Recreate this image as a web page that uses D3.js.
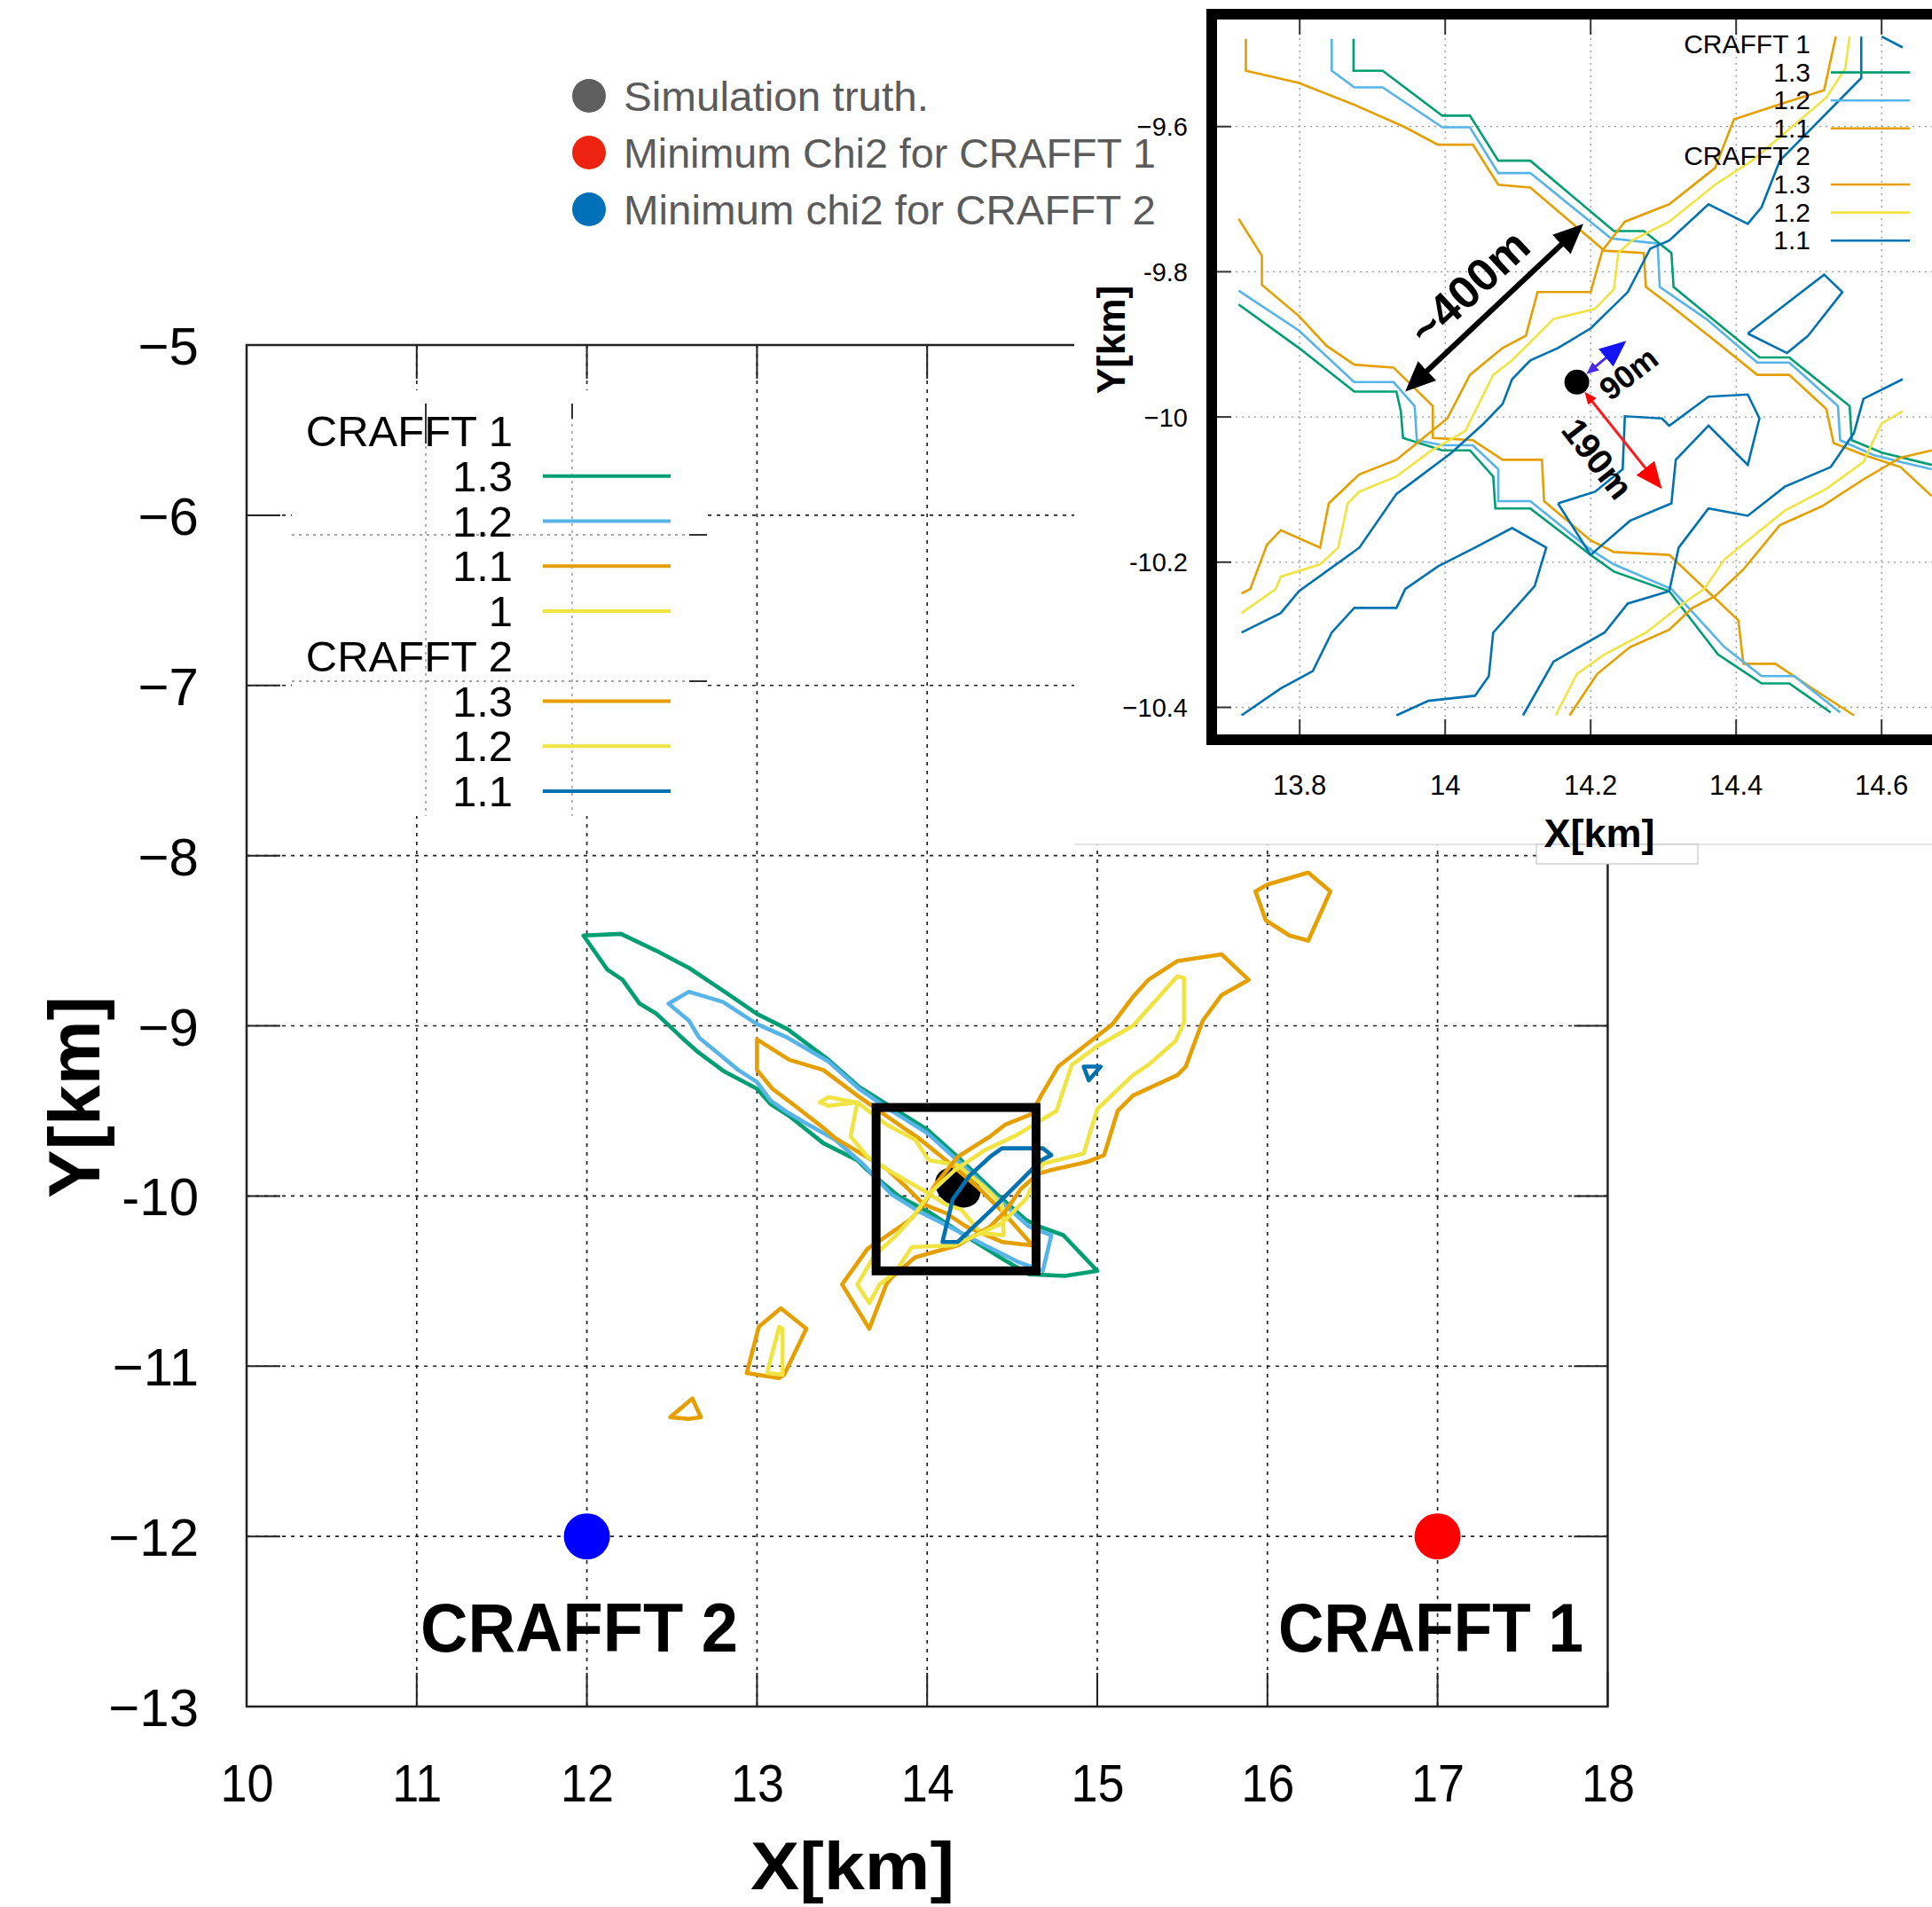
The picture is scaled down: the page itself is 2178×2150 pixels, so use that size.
<!DOCTYPE html>
<html>
<head>
<meta charset="utf-8">
<script src="https://cdn.jsdelivr.net/npm/d3@7"></script>
<style>
  body { margin: 0; background: #fff; }
  svg { display: block; }
  text { font-family: "Liberation Sans", Arial, Helvetica, sans-serif; }
</style>
</head>
<body>
<svg id="chart" width="2178" height="2150"></svg>
<script>
// ---------------- data ----------------
const xTicks = [10, 11, 12, 13, 14, 15, 16, 17, 18];
const yTicks = [-13, -12, -11, -10, -9, -8, -7, -6, -5];
const yTickLabels = ["\u221213", "\u221212", "\u221211", "-10", "\u22129", "\u22128", "\u22127", "\u22126", "\u22125"];

const stations = [
  { name: "CRAFFT 2", x: 12, y: -12 },
  { name: "CRAFFT 1", x: 17, y: -12 }
];
const truthPoint = [14.18, -9.95];
const zoomBox = { x0: 13.70, x1: 14.64, y0: -10.44, y1: -9.48 };

// chi2 ratio contours, full map (closed rings)
const c1_13 = [[11.98,-8.47],[12.20,-8.46],[12.41,-8.56],[12.60,-8.66],[12.81,-8.80],[13.00,-8.93],[13.18,-9.02],[13.42,-9.20],[13.60,-9.36],[13.76,-9.46],[14.00,-9.61],[14.20,-9.79],[14.41,-9.99],[14.58,-10.14],[14.66,-10.18],[14.80,-10.23],[15.00,-10.44],[14.81,-10.47],[14.60,-10.46],[14.46,-10.38],[14.25,-10.25],[14.02,-10.10],[13.83,-10.00],[13.65,-9.85],[13.59,-9.79],[13.39,-9.69],[13.19,-9.53],[13.08,-9.46],[13.00,-9.37],[12.81,-9.27],[12.66,-9.16],[12.58,-9.09],[12.41,-8.93],[12.31,-8.87],[12.21,-8.73],[12.12,-8.67]];
const c1_12 = [[12.48,-8.87],[12.60,-8.80],[12.80,-8.86],[13.00,-8.99],[13.18,-9.07],[13.42,-9.21],[13.60,-9.37],[13.76,-9.48],[14.00,-9.63],[14.20,-9.81],[14.41,-10.01],[14.60,-10.18],[14.73,-10.23],[14.68,-10.44],[14.54,-10.39],[14.34,-10.29],[14.11,-10.17],[13.95,-10.09],[13.79,-9.99],[13.62,-9.81],[13.46,-9.67],[13.30,-9.58],[13.18,-9.51],[13.08,-9.44],[13.00,-9.33],[12.89,-9.26],[12.77,-9.16],[12.66,-9.07],[12.60,-8.97]];
const c1_11 = [[13.00,-9.08],[13.19,-9.20],[13.39,-9.26],[13.59,-9.41],[13.76,-9.53],[13.95,-9.66],[14.11,-9.79],[14.30,-9.95],[14.46,-10.11],[14.61,-10.28],[14.61,-10.29],[14.44,-10.27],[14.23,-10.18],[14.11,-10.10],[13.98,-10.05],[13.88,-9.95],[13.76,-9.84],[13.46,-9.66],[13.39,-9.60],[13.21,-9.46],[13.09,-9.37],[13.00,-9.26]];
const c1_10 = [[13.59,-9.45],[13.76,-9.58],[13.93,-9.67],[14.01,-9.79],[14.18,-9.82],[14.34,-9.95],[14.44,-10.05],[14.45,-10.23],[14.32,-10.22],[14.20,-10.08],[14.11,-10.05],[14.00,-9.98],[13.79,-9.86],[13.65,-9.77],[13.55,-9.65]];
const c1_10b = [[13.37,-9.45],[13.42,-9.42],[13.58,-9.45],[13.42,-9.47]];

const c2_13 = [[13.50,-10.52],[13.65,-10.31],[13.74,-10.25],[13.90,-10.14],[13.98,-10.05],[14.05,-9.93],[14.18,-9.77],[14.37,-9.65],[14.46,-9.58],[14.61,-9.52],[14.67,-9.41],[14.77,-9.24],[14.91,-9.13],[15.09,-8.99],[15.21,-8.83],[15.30,-8.73],[15.47,-8.62],[15.73,-8.58],[15.89,-8.73],[15.73,-8.82],[15.62,-8.97],[15.52,-9.24],[15.47,-9.29],[15.21,-9.41],[15.12,-9.50],[15.04,-9.76],[14.94,-9.80],[14.72,-9.85],[14.65,-9.87],[14.55,-9.96],[14.46,-10.09],[14.37,-10.18],[14.18,-10.29],[13.93,-10.36],[13.79,-10.48],[13.76,-10.52],[13.66,-10.78]];
const c2_13b = [[15.93,-8.21],[16.00,-8.17],[16.24,-8.10],[16.37,-8.21],[16.24,-8.50],[16.13,-8.47],[15.99,-8.38]];
const c2_13c = [[12.94,-11.04],[13.01,-10.77],[13.14,-10.66],[13.29,-10.78],[13.16,-11.05],[13.13,-11.07]];
const c2_13d = [[12.49,-11.30],[12.62,-11.19],[12.67,-11.30],[12.60,-11.31]];
const c2_12 = [[13.59,-10.52],[13.69,-10.35],[13.81,-10.24],[13.91,-10.13],[14.02,-9.98],[14.16,-9.85],[14.34,-9.73],[14.53,-9.64],[14.76,-9.50],[14.85,-9.23],[15.00,-9.12],[15.21,-9.00],[15.47,-8.71],[15.51,-8.72],[15.51,-8.98],[15.46,-9.09],[15.30,-9.23],[15.21,-9.29],[15.00,-9.49],[14.92,-9.75],[14.68,-9.81],[14.58,-10.02],[14.44,-10.16],[14.16,-10.29],[13.91,-10.30],[13.81,-10.45],[13.72,-10.52],[13.66,-10.63]];
const c2_12b = [[13.06,-11.04],[13.13,-10.77],[13.15,-10.78],[13.15,-11.05]];
const c2_11 = [[14.44,-9.72],[14.68,-9.72],[14.73,-9.76],[14.67,-9.79],[14.39,-10.07],[14.18,-10.27],[14.09,-10.27],[14.15,-10.02],[14.25,-9.88],[14.37,-9.77]];
const c2_11b = [[14.92,-9.24],[15.02,-9.24],[14.95,-9.32]];

// zoomed map contours (open lines crossing the window)
const z1_11_up = [[13.726,-9.479],[13.726,-9.523],[13.799,-9.540],[13.875,-9.570],[13.945,-9.601],[13.990,-9.625],[14.038,-9.625],[14.073,-9.680],[14.117,-9.684],[14.219,-9.771],[14.273,-9.774],[14.276,-9.821],[14.308,-9.845],[14.371,-9.895],[14.429,-9.942],[14.473,-9.942],[14.524,-9.989],[14.534,-10.036],[14.575,-10.052],[14.626,-10.069],[14.669,-10.109]];
const z1_12_up = [[13.844,-9.479],[13.844,-9.523],[13.875,-9.546],[13.914,-9.546],[13.996,-9.601],[14.034,-9.601],[14.073,-9.664],[14.117,-9.664],[14.228,-9.754],[14.273,-9.759],[14.292,-9.761],[14.295,-9.821],[14.359,-9.865],[14.429,-9.925],[14.473,-9.925],[14.540,-9.985],[14.543,-10.032],[14.588,-10.052],[14.626,-10.062],[14.669,-10.072]];
const z1_13_up = [[13.874,-9.479],[13.874,-9.523],[13.914,-9.523],[13.996,-9.585],[14.034,-9.585],[14.073,-9.647],[14.117,-9.647],[14.232,-9.744],[14.273,-9.744],[14.311,-9.774],[14.314,-9.821],[14.371,-9.868],[14.432,-9.918],[14.473,-9.918],[14.556,-9.985],[14.559,-10.032],[14.600,-10.049],[14.669,-10.066]];
const z1_13_lo = [[13.716,-9.845],[13.799,-9.905],[13.875,-9.965],[13.933,-9.965],[13.939,-9.992],[13.942,-10.029],[13.996,-10.046],[14.034,-10.046],[14.066,-10.082],[14.069,-10.126],[14.117,-10.126],[14.200,-10.190],[14.232,-10.213],[14.308,-10.240],[14.375,-10.327],[14.435,-10.367],[14.473,-10.367],[14.530,-10.407]];
const z1_12_lo = [[13.716,-9.826],[13.799,-9.881],[13.875,-9.952],[13.929,-9.952],[13.958,-9.985],[13.961,-10.032],[13.996,-10.039],[14.038,-10.039],[14.073,-10.072],[14.073,-10.116],[14.117,-10.116],[14.200,-10.183],[14.232,-10.203],[14.311,-10.237],[14.384,-10.317],[14.435,-10.357],[14.480,-10.357],[14.543,-10.407]];
const z1_11_lo = [[13.716,-9.727],[13.748,-9.778],[13.748,-9.818],[13.799,-9.861],[13.837,-9.902],[13.875,-9.928],[13.929,-9.932],[13.983,-9.985],[13.983,-10.029],[14.038,-10.032],[14.079,-10.059],[14.133,-10.059],[14.136,-10.116],[14.200,-10.170],[14.232,-10.186],[14.308,-10.190],[14.403,-10.280],[14.410,-10.340],[14.454,-10.340],[14.505,-10.374],[14.562,-10.411]];

const z2_13_a = [[13.720,-10.243],[13.732,-10.237],[13.755,-10.176],[13.774,-10.156],[13.828,-10.180],[13.840,-10.119],[13.882,-10.079],[13.933,-10.059],[14.003,-10.002],[14.034,-9.942],[14.079,-9.905],[14.111,-9.888],[14.127,-9.828],[14.200,-9.828],[14.216,-9.771],[14.247,-9.731],[14.308,-9.707],[14.371,-9.657],[14.397,-9.590],[14.467,-9.567],[14.521,-9.550],[14.537,-9.476]];
const z2_12_a = [[13.720,-10.270],[13.767,-10.237],[13.774,-10.220],[13.828,-10.203],[13.853,-10.180],[13.866,-10.119],[13.882,-10.103],[13.933,-10.082],[13.977,-10.049],[14.028,-10.019],[14.066,-9.942],[14.092,-9.922],[14.149,-9.865],[14.206,-9.851],[14.232,-9.824],[14.238,-9.774],[14.257,-9.757],[14.308,-9.731],[14.371,-9.680],[14.422,-9.647],[14.524,-9.560],[14.550,-9.520],[14.556,-9.476]];
const z2_11_a = [[13.720,-10.297],[13.774,-10.270],[13.799,-10.240],[13.882,-10.180],[13.933,-10.106],[13.952,-10.092],[14.009,-10.049],[14.053,-10.009],[14.079,-9.982],[14.092,-9.948],[14.117,-9.922],[14.155,-9.905],[14.200,-9.878],[14.251,-9.828],[14.282,-9.768],[14.308,-9.757],[14.362,-9.707],[14.416,-9.734],[14.435,-9.711],[14.460,-9.647],[14.572,-9.533],[14.572,-9.476]];
const z2_11_ring = [[14.416,-9.885],[14.521,-9.804],[14.546,-9.828],[14.499,-9.888],[14.470,-9.912],[14.416,-9.885]];
const z2_11_core = [[14.155,-10.119],[14.206,-10.103],[14.244,-10.072],[14.247,-9.999],[14.298,-10.002],[14.308,-10.012],[14.362,-9.972],[14.416,-9.969],[14.432,-10.002],[14.416,-10.066],[14.362,-10.012],[14.317,-10.059],[14.311,-10.119],[14.254,-10.143],[14.200,-10.190],[14.155,-10.119]];
const z2_11_sw = [[13.720,-10.411],[13.774,-10.374],[13.818,-10.350],[13.844,-10.297],[13.875,-10.263],[13.933,-10.263],[13.945,-10.237],[13.990,-10.206],[14.041,-10.180],[14.092,-10.153],[14.139,-10.180],[14.123,-10.233],[14.066,-10.297],[14.060,-10.357],[14.041,-10.384],[13.977,-10.391],[13.933,-10.411]];
const z2_11_b = [[14.107,-10.411],[14.149,-10.337],[14.219,-10.297],[14.251,-10.257],[14.308,-10.240],[14.321,-10.180],[14.362,-10.126],[14.416,-10.136],[14.467,-10.096],[14.530,-10.069],[14.562,-10.022],[14.575,-9.975],[14.629,-9.948]];
const z2_11_ne = [[14.600,-9.476],[14.629,-9.491]];
const z2_12_b = [[14.152,-10.411],[14.181,-10.354],[14.219,-10.327],[14.276,-10.297],[14.327,-10.257],[14.356,-10.237],[14.384,-10.196],[14.467,-10.129],[14.524,-10.099],[14.575,-10.062],[14.600,-10.009],[14.629,-9.992]];
const z2_13_b = [[14.171,-10.411],[14.209,-10.354],[14.254,-10.317],[14.308,-10.293],[14.340,-10.263],[14.371,-10.247],[14.410,-10.210],[14.460,-10.149],[14.518,-10.123],[14.575,-10.086],[14.626,-10.056],[14.669,-10.046]];

// zoomed map: minima and distances
const zoomTruth = [14.181, -9.952];
const zoomMin2 = [14.249, -9.895];
const zoomMin1 = [14.298, -10.099];
const widthArrow = [[13.945, -9.965], [14.190, -9.734]];
const widthLabel = "~400m";
const dist2Label = "90m";
const dist1Label = "190m";

const insetXTicks = [13.8, 14, 14.2, 14.4, 14.6];
const insetXTickLabels = ["13.8", "14", "14.2", "14.4", "14.6"];
const insetYTicks = [-9.6, -9.8, -10, -10.2, -10.4];
const insetYTickLabels = ["\u22129.6", "-9.8", "\u221210", "-10.2", "\u221210.4"];

const legendSets = ["CRAFFT 1", "CRAFFT 2"];
const legendLevels1 = ["1.3", "1.2", "1.1", "1"];
const legendLevels2 = ["1.3", "1.2", "1.1"];
const insetLevels1 = ["1.3", "1.2", "1.1"];
const insetLevels2 = ["1.3", "1.2", "1.1"];
const markerLegend = ["Simulation truth.", "Minimum Chi2 for CRAFFT 1", "Minimum chi2 for CRAFFT 2"];

// ---------------- styles ----------------
const GREEN = "#009e73", SKY = "#56b4e9", ORANGE = "#e69f00", YELLOW = "#f0e442", BLUE = "#0072b2";
const c1Colors = { "1.3": GREEN, "1.2": SKY, "1.1": ORANGE, "1": YELLOW };
const c2Colors = { "1.3": ORANGE, "1.2": YELLOW, "1.1": BLUE };

const mainRings = [
  { ring: c1_13, color: c1Colors["1.3"] },
  { ring: c1_12, color: c1Colors["1.2"] },
  { ring: c1_11, color: c1Colors["1.1"] },
  { ring: c1_10, color: c1Colors["1"] },
  { ring: c1_10b, color: c1Colors["1"] },
  { ring: c2_13, color: c2Colors["1.3"] },
  { ring: c2_13b, color: c2Colors["1.3"] },
  { ring: c2_13c, color: c2Colors["1.3"] },
  { ring: c2_13d, color: c2Colors["1.3"] },
  { ring: c2_12, color: c2Colors["1.2"] },
  { ring: c2_12b, color: c2Colors["1.2"] },
  { ring: c2_11, color: c2Colors["1.1"] },
  { ring: c2_11b, color: c2Colors["1.1"] }
];
const insetLines = [
  { pts: z1_11_up, color: c1Colors["1.1"] },
  { pts: z1_12_up, color: c1Colors["1.2"] },
  { pts: z1_13_up, color: c1Colors["1.3"] },
  { pts: z1_11_lo, color: c1Colors["1.1"] },
  { pts: z1_12_lo, color: c1Colors["1.2"] },
  { pts: z1_13_lo, color: c1Colors["1.3"] },
  { pts: z2_13_a, color: c2Colors["1.3"] },
  { pts: z2_12_a, color: c2Colors["1.2"] },
  { pts: z2_11_a, color: c2Colors["1.1"] },
  { pts: z2_11_ring, color: c2Colors["1.1"] },
  { pts: z2_11_core, color: c2Colors["1.1"] },
  { pts: z2_11_sw, color: c2Colors["1.1"] },
  { pts: z2_11_b, color: c2Colors["1.1"] },
  { pts: z2_11_ne, color: c2Colors["1.1"] },
  { pts: z2_12_b, color: c2Colors["1.2"] },
  { pts: z2_13_b, color: c2Colors["1.3"] }
];

// ---------------- drawing ----------------
const svg = d3.select("#chart");
svg.append("rect").attr("width", 2178).attr("height", 2150).attr("fill", "#fff");
const defs = svg.append("defs");

const plotL = 278, plotR = 1812.4, plotT = 389, plotB = 1924;
const x = d3.scaleLinear().domain([10, 18]).range([plotL, plotR]);
const y = d3.scaleLinear().domain([-13, -5]).range([plotB, plotT]);

// grid
const grid = svg.append("g").attr("stroke", "#222").attr("stroke-width", 1.7).attr("stroke-dasharray", "4,6");
grid.selectAll("line.gx").data(xTicks.slice(1, -1)).join("line").attr("class", "gx")
  .attr("x1", d => x(d)).attr("x2", d => x(d)).attr("y1", plotT).attr("y2", plotB);
grid.selectAll("line.gy").data(yTicks.slice(1, -1)).join("line").attr("class", "gy")
  .attr("y1", d => y(d)).attr("y2", d => y(d)).attr("x1", plotL).attr("x2", plotR);

// ticks on all four sides
const tk = svg.append("g").attr("stroke", "#222").attr("stroke-width", 2);
const TL = 38;
tk.selectAll("line.tb").data(xTicks).join("line").attr("class", "tb")
  .attr("x1", d => x(d)).attr("x2", d => x(d)).attr("y1", plotB).attr("y2", plotB - TL);
tk.selectAll("line.tt").data(xTicks).join("line").attr("class", "tt")
  .attr("x1", d => x(d)).attr("x2", d => x(d)).attr("y1", plotT).attr("y2", plotT + TL);
tk.selectAll("line.tl").data(yTicks).join("line").attr("class", "tl")
  .attr("y1", d => y(d)).attr("y2", d => y(d)).attr("x1", plotL).attr("x2", plotL + TL);
tk.selectAll("line.tr").data(yTicks).join("line").attr("class", "tr")
  .attr("y1", d => y(d)).attr("y2", d => y(d)).attr("x1", plotR).attr("x2", plotR - TL);

// frame
svg.append("rect").attr("x", plotL).attr("y", plotT).attr("width", plotR - plotL).attr("height", plotB - plotT)
  .attr("fill", "none").attr("stroke", "#222").attr("stroke-width", 2.5);

// axes labels
const gx = svg.append("g").attr("transform", `translate(0,${plotB})`)
  .call(d3.axisBottom(x).tickValues(xTicks).tickSize(0).tickFormat(d3.format("d")));
gx.select(".domain").remove();
gx.selectAll("text").attr("font-size", 60).attr("fill", "#000").attr("dy", null).attr("y", 107)
  .attr("font-family", "Liberation Sans, Arial, sans-serif").attr("transform", "scale(0.9,1)");
const gy = svg.append("g").attr("transform", `translate(${plotL},0)`)
  .call(d3.axisLeft(y).tickValues(yTicks).tickSize(0).tickPadding(54).tickFormat((d, i) => yTickLabels[i]));
gy.select(".domain").remove();
gy.selectAll("text").attr("font-size", 60).attr("fill", "#000").attr("dy", "0.36em")
  .attr("font-family", "Liberation Sans, Arial, sans-serif");

svg.append("text").attr("x", 961).attr("y", 2130).attr("text-anchor", "middle")
  .attr("font-size", 76).attr("font-weight", "bold")
  .attr("textLength", 230).attr("lengthAdjust", "spacingAndGlyphs").text("X[km]");
svg.append("text").attr("transform", "translate(112,1237) rotate(-90)").attr("text-anchor", "middle")
  .attr("font-size", 82).attr("font-weight", "bold").text("Y[km]");

// truth blob (under contours)
svg.append("ellipse").attr("cx", x(truthPoint[0])).attr("cy", y(truthPoint[1]))
  .attr("rx", 27).attr("ry", 21).attr("fill", "#000")
  .attr("transform", `rotate(30,${x(truthPoint[0])},${y(truthPoint[1])})`);

// contours
defs.append("clipPath").attr("id", "plotClip").append("rect")
  .attr("x", plotL).attr("y", plotT).attr("width", plotR - plotL).attr("height", plotB - plotT);
const ringLine = d3.line().x(d => x(d[0])).y(d => y(d[1])).curve(d3.curveLinearClosed);
svg.append("g").attr("clip-path", "url(#plotClip)").attr("fill", "none").attr("stroke-width", 4.6).attr("stroke-linejoin", "round")
  .selectAll("path").data(mainRings).join("path")
  .attr("d", d => ringLine(d.ring)).attr("stroke", d => d.color);

// zoom window
svg.append("rect").attr("x", x(zoomBox.x0)).attr("y", y(zoomBox.y1))
  .attr("width", x(zoomBox.x1) - x(zoomBox.x0)).attr("height", y(zoomBox.y0) - y(zoomBox.y1))
  .attr("fill", "none").attr("stroke", "#000").attr("stroke-width", 10);

// detector stations
const stationColors = ["#0000ff", "#ff0000"];
svg.selectAll("circle.st").data(stations).join("circle").attr("class", "st")
  .attr("cx", d => x(d.x)).attr("cy", d => y(d.y)).attr("r", 26).attr("fill", (d, i) => stationColors[i]);
const stationLabelPos = [{ x: 474, len: 358 }, { x: 1441, len: 344 }];
svg.selectAll("text.st").data(stations).join("text").attr("class", "st")
  .attr("x", (d, i) => stationLabelPos[i].x).attr("y", 1862)
  .attr("font-size", 78).attr("font-weight", "bold")
  .attr("textLength", (d, i) => stationLabelPos[i].len).attr("lengthAdjust", "spacingAndGlyphs")
  .text(d => d.name);

// contour legend block
const lg = svg.append("g");
lg.append("rect").attr("x", 329).attr("y", 440).attr("width", 468).attr("height", 480).attr("fill", "#fff");
const lgGrid = lg.append("g").attr("stroke", "#888").attr("stroke-width", 1.3).attr("stroke-dasharray", "3,5");
[480, 645].forEach(v => lgGrid.append("line").attr("x1", v).attr("x2", v).attr("y1", v === 480 ? 455 : 470).attr("y2", 920));
[603, 768].forEach(v => lgGrid.append("line").attr("y1", v).attr("y2", v).attr("x1", 329).attr("x2", 777));
const lgTk = lg.append("g").attr("stroke", "#333").attr("stroke-width", 2);
lgTk.append("line").attr("x1", 645).attr("x2", 645).attr("y1", 455).attr("y2", 472);
lgTk.append("line").attr("x1", 480).attr("x2", 480).attr("y1", 455).attr("y2", 500);
[603, 768].forEach(v => lgTk.append("line").attr("y1", v).attr("y2", v).attr("x1", 777).attr("x2", 797));

const legendRows = [];
legendRows.push({ label: legendSets[0], color: null });
legendLevels1.forEach(l => legendRows.push({ label: l, color: c1Colors[l] }));
legendRows.push({ label: legendSets[1], color: null });
legendLevels2.forEach(l => legendRows.push({ label: l, color: c2Colors[l] }));
const rowY = i => 486 + i * 50.75;
lg.selectAll("text").data(legendRows).join("text")
  .attr("x", 578).attr("y", (d, i) => rowY(i) + 17).attr("text-anchor", "end")
  .attr("font-size", 49).attr("fill", "#000").text(d => d.label);
lg.selectAll("line.key").data(legendRows.filter(d => d.color)).join("line").attr("class", "key")
  .attr("x1", 612).attr("x2", 756)
  .attr("y1", d => rowY(legendRows.indexOf(d))).attr("y2", d => rowY(legendRows.indexOf(d)))
  .attr("stroke", d => d.color).attr("stroke-width", 4);

// ---------------- zoomed window ----------------
svg.append("rect").attr("x", 1211).attr("y", 0).attr("width", 967).attr("height", 952).attr("fill", "#fff");
svg.append("line").attr("x1", 1211).attr("x2", 2178).attr("y1", 952).attr("y2", 952).attr("stroke", "#ddd").attr("stroke-width", 1.5);
svg.append("rect").attr("x", 1732).attr("y", 952).attr("width", 182).attr("height", 22)
  .attr("fill", "#fff").attr("stroke", "#bbb").attr("stroke-width", 1);

const xi = d3.scaleLinear().domain([14, 14.2]).range([1629.2, 1793.2]);
const yi = d3.scaleLinear().domain([-10, -9.8]).range([470.1, 306.4]);
const inL = 1372, inT = 22, inR = 2178, inB = 828;

defs.append("clipPath").attr("id", "insetClip").append("rect")
  .attr("x", inL).attr("y", inT).attr("width", inR - inL).attr("height", inB - inT);

const ig = svg.append("g").attr("stroke", "#999").attr("stroke-width", 1.3).attr("stroke-dasharray", "2,5");
ig.selectAll("line.ix").data(insetXTicks).join("line").attr("class", "ix")
  .attr("x1", d => xi(d)).attr("x2", d => xi(d)).attr("y1", inT).attr("y2", inB);
ig.selectAll("line.iy").data(insetYTicks).join("line").attr("class", "iy")
  .attr("y1", d => yi(d)).attr("y2", d => yi(d)).attr("x1", inL).attr("x2", inR);

const itk = svg.append("g").attr("stroke", "#333").attr("stroke-width", 2);
itk.selectAll("line.a").data(insetXTicks).join("line").attr("class", "a")
  .attr("x1", d => xi(d)).attr("x2", d => xi(d)).attr("y1", inT).attr("y2", inT + 17);
itk.selectAll("line.b").data(insetXTicks).join("line").attr("class", "b")
  .attr("x1", d => xi(d)).attr("x2", d => xi(d)).attr("y1", inB).attr("y2", inB - 17);
itk.selectAll("line.c").data(insetYTicks).join("line").attr("class", "c")
  .attr("y1", d => yi(d)).attr("y2", d => yi(d)).attr("x1", inL).attr("x2", inL + 16);

const openLine = d3.line().x(d => xi(d[0])).y(d => yi(d[1]));
svg.append("g").attr("clip-path", "url(#insetClip)").attr("fill", "none").attr("stroke-width", 2.6)
  .selectAll("path").data(insetLines).join("path")
  .attr("d", d => openLine(d.pts)).attr("stroke", d => d.color);

// inset legend
const insetRows = [];
insetRows.push({ label: legendSets[0], color: null });
insetLevels1.forEach(l => insetRows.push({ label: l, color: c1Colors[l] }));
insetRows.push({ label: legendSets[1], color: null });
insetLevels2.forEach(l => insetRows.push({ label: l, color: c2Colors[l] }));
const iRowBase = i => 60 + i * 31.6;
const il = svg.append("g");
il.selectAll("text").data(insetRows).join("text")
  .attr("x", 2041).attr("y", (d, i) => iRowBase(i)).attr("text-anchor", "end")
  .attr("font-size", 30).attr("fill", "#000").text(d => d.label);
il.selectAll("line").data(insetRows.filter(d => d.color)).join("line")
  .attr("x1", 2064).attr("x2", 2153)
  .attr("y1", d => iRowBase(insetRows.indexOf(d)) - 10).attr("y2", d => iRowBase(insetRows.indexOf(d)) - 10)
  .attr("stroke", d => d.color).attr("stroke-width", 2.6);

// arrows and minima
function marker(id, color, len, wid) {
  const m = defs.append("marker").attr("id", id).attr("viewBox", "0 0 10 10")
    .attr("refX", 5).attr("refY", 5).attr("markerWidth", len).attr("markerHeight", wid)
    .attr("markerUnits", "userSpaceOnUse").attr("orient", "auto-start-reverse")
    .attr("preserveAspectRatio", "none");
  m.append("path").attr("d", "M0,0L10,5L0,10Z").attr("fill", color);
}
marker("hBlack", "#000", 34, 30);
marker("hRedS", "#ff0000", 14, 12);
marker("hRedL", "#ff0000", 30, 26);
marker("hPurS", "#4a2be8", 14, 12);
marker("hBlueL", "#1414f5", 30, 26);

function arrow(p0, p1, color, width, startId, startLen, endId, endLen, trim0) {
  const ax = xi(p0[0]), ay = yi(p0[1]), bx = xi(p1[0]), by = yi(p1[1]);
  const L = Math.hypot(bx - ax, by - ay), ux = (bx - ax) / L, uy = (by - ay) / L;
  const s0 = trim0 + startLen / 2, s1 = endLen / 2;
  svg.append("line")
    .attr("x1", ax + ux * s0).attr("y1", ay + uy * s0)
    .attr("x2", bx - ux * s1).attr("y2", by - uy * s1)
    .attr("stroke", color).attr("stroke-width", width)
    .attr("marker-start", `url(#${startId})`).attr("marker-end", `url(#${endId})`);
}
arrow(widthArrow[0], widthArrow[1], "#000", 6, "hBlack", 34, "hBlack", 34, 0);
arrow(zoomTruth, zoomMin1, "#ff1a1a", 3, "hRedS", 14, "hRedL", 30, 14);
arrow(zoomTruth, zoomMin2, "#4a2be8", 3, "hPurS", 14, "hBlueL", 30, 14);
svg.append("circle").attr("cx", xi(zoomTruth[0])).attr("cy", yi(zoomTruth[1])).attr("r", 14).attr("fill", "#000");

svg.append("text").attr("transform", "translate(1656,324) rotate(-43)")
  .attr("text-anchor", "middle").attr("dominant-baseline", "central")
  .attr("font-size", 52).attr("font-weight", "bold").text(widthLabel);
svg.append("text").attr("transform", "translate(1836,421) rotate(-38)")
  .attr("text-anchor", "middle").attr("dominant-baseline", "central")
  .attr("font-size", 36).attr("font-weight", "bold").text(dist2Label);
svg.append("text").attr("transform", "translate(1801,517) rotate(52)")
  .attr("text-anchor", "middle").attr("dominant-baseline", "central")
  .attr("font-size", 40).attr("font-weight", "bold").text(dist1Label);

// inset frame
svg.append("rect").attr("x", 1366).attr("y", 16).attr("width", 840).attr("height", 818)
  .attr("fill", "none").attr("stroke", "#000").attr("stroke-width", 12);

// marker legend (top)
const mlColors = ["#5f5f5f", "#ee2211", "#0070b8"];
const mlLen = [344, 600, 600];
const ml = svg.append("g");
ml.selectAll("circle").data(markerLegend).join("circle")
  .attr("cx", 664).attr("cy", (d, i) => 108 + i * 64).attr("r", 19).attr("fill", (d, i) => mlColors[i]);
ml.selectAll("text").data(markerLegend).join("text")
  .attr("x", 703).attr("y", (d, i) => 125 + i * 64).attr("font-size", 47).attr("fill", "#5b5b5b")
  .attr("textLength", (d, i) => mlLen[i]).attr("lengthAdjust", "spacingAndGlyphs").text(d => d);

// inset tick labels and titles
svg.selectAll("text.ixl").data(insetXTicks).join("text").attr("class", "ixl")
  .attr("x", d => xi(d)).attr("y", 896).attr("text-anchor", "middle").attr("font-size", 31)
  .text((d, i) => insetXTickLabels[i]);
svg.selectAll("text.iyl").data(insetYTicks).join("text").attr("class", "iyl")
  .attr("x", 1339).attr("y", d => yi(d)).attr("dy", "0.36em").attr("text-anchor", "end").attr("font-size", 29)
  .text((d, i) => insetYTickLabels[i]);
svg.append("text").attr("x", 1803).attr("y", 955).attr("text-anchor", "middle")
  .attr("font-size", 45).attr("font-weight", "bold").text("X[km]");
svg.append("text").attr("transform", "translate(1268,383) rotate(-90)").attr("text-anchor", "middle")
  .attr("font-size", 44).attr("font-weight", "bold").text("Y[km]");
</script>
</body>
</html>
